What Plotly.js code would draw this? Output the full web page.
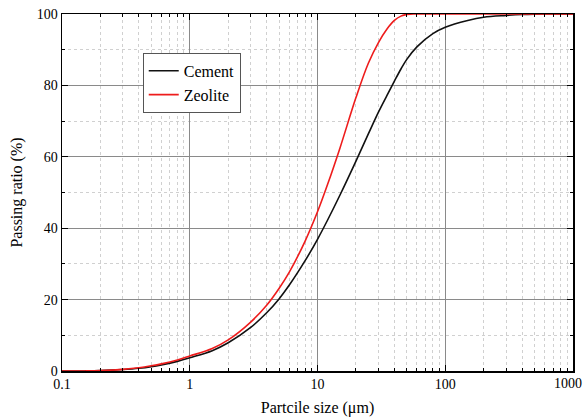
<!DOCTYPE html>
<html>
<head>
<meta charset="utf-8">
<script src="https://cdn.plot.ly/plotly-3.0.1.min.js"></script>
<style>html,body{margin:0;padding:0;background:#fff;}</style>
</head>
<body>
<div id="chart" style="width:585px;height:419px;"></div>
<script>
// Particle size (µm)
var sizes = [0.1, 0.15, 0.2, 0.3, 0.4, 0.5, 0.6, 0.8, 1, 1.5, 2, 3, 4, 5, 6, 8, 10, 12, 15, 20, 25, 30, 35, 40, 45, 50, 60, 80, 100, 150, 200, 300, 400, 500, 700, 1000];
// Passing ratio (%)
var cement = [0, 0.02, 0.1, 0.4, 0.75, 1.2, 1.7, 2.7, 3.7, 5.7, 7.9, 12.2, 16.3, 20.2, 24.0, 30.9, 36.9, 42.3, 49.3, 58.8, 66.4, 72.5, 77.2, 81.2, 84.6, 87.3, 90.8, 94.5, 96.3, 98.2, 99.1, 99.6, 99.85, 99.95, 100, 100];
var zeolite = [0, 0.02, 0.1, 0.45, 0.9, 1.45, 2.0, 3.1, 4.2, 6.3, 8.7, 13.7, 18.4, 23.1, 27.6, 36.4, 44.6, 52.3, 62.5, 76.6, 86.2, 92.0, 95.8, 98.2, 99.4, 99.9, 100, 100, 100, 100, 100, 100, 100, 100, 100, 100];

var xTickVals = [0.1, 1, 10, 100, 1000];
var xTickText = ["0.1", "1", "10", "100", ""];
var lastXLabel = "1000";
var minorDigits = [2, 3, 4, 5, 6, 7, 8, 9];
var decades = [0.1, 1, 10, 100];
var xMinor = [];
decades.forEach(function (d) { minorDigits.forEach(function (m) { xMinor.push(d * m); }); });

var yTickVals = [0, 20, 40, 60, 80, 100];
var yMinor = [10, 30, 50, 70, 90];

var fontFam = '"Liberation Serif", "Times New Roman", serif';

var traces = [
  {x: sizes, y: cement, name: 'Cement', type: 'scatter', mode: 'lines',
   line: {color: '#111111', width: 1.6, shape: 'spline', smoothing: 1.0}},
  {x: sizes, y: zeolite, name: 'Zeolite', type: 'scatter', mode: 'lines',
   line: {color: '#ee1c1c', width: 1.6, shape: 'spline', smoothing: 1.0}}
];

var layout = {
  width: 585, height: 419,
  margin: {l: 62, r: 12, t: 14, b: 48},
  paper_bgcolor: '#ffffff', plot_bgcolor: '#ffffff',
  font: {family: fontFam, size: 14, color: '#000'},
  showlegend: true,
  legend: {x: 0.158, y: 0.891, xanchor: 'left', yanchor: 'top',
    bgcolor: '#ffffff', bordercolor: '#555555', borderwidth: 1,
    font: {family: fontFam, size: 16, color: '#000'}, tracegroupgap: 0},
  annotations: [
    {x: Math.log10(xTickVals[xTickVals.length - 1]), xref: 'x', y: 0, yref: 'paper',
     text: lastXLabel, showarrow: false, xanchor: 'right', yanchor: 'top',
     xshift: 11, yshift: -3, font: {family: fontFam, size: 14, color: '#000'}}
  ],
  xaxis: {
    type: 'log', range: [-1, 3],
    tickmode: 'array', tickvals: xTickVals, ticktext: xTickText,
    ticks: 'inside', ticklen: 6, tickwidth: 1, tickcolor: '#000',
    showline: true, linecolor: '#000', linewidth: 1.5, mirror: 'ticks',
    showgrid: true, gridcolor: '#8a8a8a', gridwidth: 1,
    zeroline: false,
    tickfont: {family: fontFam, size: 14, color: '#000'},
    minor: {tickmode: 'array', tickvals: xMinor, ticks: 'inside', ticklen: 3, tickcolor: '#000',
      showgrid: true, gridcolor: '#d0d0d0', gridwidth: 1, griddash: 'dot'},
    title: {text: 'Partcile size (\u03bcm)', font: {family: fontFam, size: 16, color: '#000'}, standoff: 10}
  },
  yaxis: {
    range: [0, 100],
    tickmode: 'array', tickvals: yTickVals,
    ticks: 'inside', ticklen: 6, tickwidth: 1, tickcolor: '#000',
    showline: true, linecolor: '#000', linewidth: 1.5, mirror: 'ticks',
    showgrid: true, gridcolor: '#8a8a8a', gridwidth: 1,
    zeroline: false,
    tickfont: {family: fontFam, size: 14, color: '#000'},
    minor: {tickmode: 'array', tickvals: yMinor, ticks: 'inside', ticklen: 3, tickcolor: '#000',
      showgrid: true, gridcolor: '#d0d0d0', gridwidth: 1, griddash: 'dot'},
    title: {text: 'Passing ratio (%)', font: {family: fontFam, size: 16, color: '#000'}, standoff: 10}
  }
};

Plotly.newPlot('chart', traces, layout, {displayModeBar: false, staticPlot: true});
</script>
</body>
</html>
